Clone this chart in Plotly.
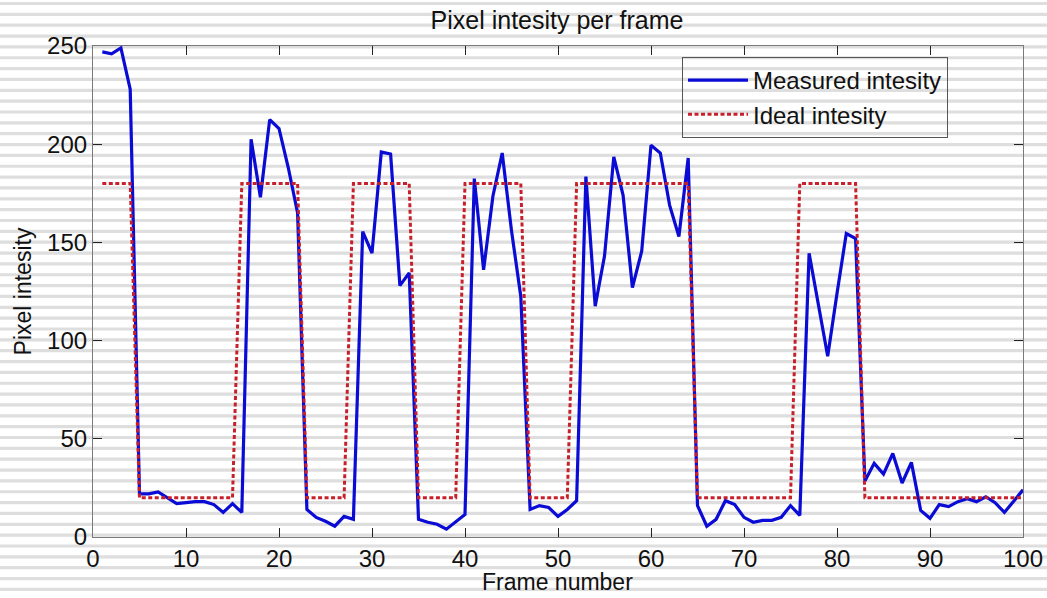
import plotly.graph_objects as go

frames = list(range(1, 101))
measured = [247, 246, 249, 228, 22, 22, 23, 20, 17, 17.5,
            18, 18, 16.5, 12.5, 17, 12.5, 202.5, 173, 212.5, 208,
            188, 165, 14, 10, 8, 5.5, 10.5, 9, 155.5, 144.5,
            196, 195, 128, 134.5, 9, 7.5, 6.5, 4, 7.5, 11.5,
            182.5, 136, 173.5, 195.5, 156, 122.5, 14, 16, 15, 10.5,
            14, 18.5, 183.5, 117.5, 143, 193.5, 174, 127, 145.5, 199.5,
            195.5, 169, 153, 193, 16, 5.5, 9, 18.5, 16.5, 10,
            7.5, 8.5, 8.5, 10, 16, 11, 144.5, 117.5, 92, 124,
            154.5, 152, 28.5, 37.5, 32, 42.5, 27.5, 38, 13.5, 9.5,
            16.5, 15.5, 18, 19.5, 18, 20.5, 17.5, 12.5, 18.5, 24]
ideal = ([180] * 4 + [20] * 11 + [180] * 7 + [20] * 5 + [180] * 7 + [20] * 5 +
         [180] * 7 + [20] * 5 + [180] * 13 + [20] * 11 + [180] * 7 + [20] * 18)

x_ticks = [0, 10, 20, 30, 40, 50, 60, 70, 80, 90, 100]
y_ticks = [0, 50, 100, 150, 200, 250]

W, H = 1047, 598
L, T = 93, 46
R = W - 1023
B = H - 537
pw, ph = W - L - R, H - T - B

fig = go.Figure()
fig.add_trace(go.Scatter(x=frames, y=measured, mode="lines", name="Measured intesity",
                         line=dict(color="#0b0bd6", width=3.2)))
fig.add_trace(go.Scatter(x=frames, y=ideal, mode="lines", name="Ideal intesity",
                         line=dict(color="#c8202a", width=3, dash="4px,2.5px")))

# striped slide background (positions in page pixels)
shapes = []
yc = 3.5
while yc < H + 6:
    y0 = (H - B - (yc - 1.6)) / ph
    y1 = (H - B - (yc + 1.6)) / ph
    shapes.append(dict(type="rect", xref="paper", yref="paper",
                       x0=-L / pw, x1=1 + R / pw, y0=y1, y1=y0,
                       fillcolor="#dedede", line=dict(width=0), layer="below"))
    yc += 10.85

fig.update_layout(
    width=W, height=H,
    margin=dict(l=L, r=R, t=T, b=B, autoexpand=False),
    paper_bgcolor="white", plot_bgcolor="rgba(0,0,0,0)",
    shapes=shapes,
    font=dict(family="Liberation Sans, Arial, sans-serif", color="#111", size=24),
    title=dict(text="Pixel intesity per frame", x=557 / W, xanchor="center",
               y=1 - 20 / H, yanchor="middle", font=dict(size=25, color="#111")),
    legend=dict(x=(682 - L) / pw, y=(H - B - 57) / ph, xanchor="left", yanchor="top",
                bgcolor="rgba(0,0,0,0)", bordercolor="#555", borderwidth=1,
                font=dict(size=24), itemwidth=60, tracegroupgap=0),
    showlegend=True,
    annotations=[dict(text="Frame number", xref="paper", yref="paper",
                      x=(557 - L) / pw, y=-(582 - 537) / ph, xanchor="center",
                      yanchor="middle", showarrow=False,
                      font=dict(size=23, color="#111"))],
)
fig.update_xaxes(range=[0, 100], tickvals=x_ticks, ticks="inside", ticklen=9,
                 tickcolor="#222", showline=True, linecolor="#7a7a7a", linewidth=1.2,
                 mirror="ticks", showgrid=False, zeroline=False, automargin=False,
                 tickfont=dict(size=24), ticklabeloverflow="allow")
fig.update_yaxes(range=[0, 250], tickvals=y_ticks, ticks="inside", ticklen=9,
                 tickcolor="#222", showline=True, linecolor="#7a7a7a", linewidth=1.2,
                 mirror="ticks", showgrid=False, zeroline=False, automargin=False,
                 tickfont=dict(size=24), ticklabeloverflow="allow",
                 title=dict(text="Pixel intesity", standoff=9, font=dict(size=23)))

fig.write_html("out.html", config={"displayModeBar": False},
               post_script="document.body.style.margin='0';document.body.style.overflow='hidden';")
